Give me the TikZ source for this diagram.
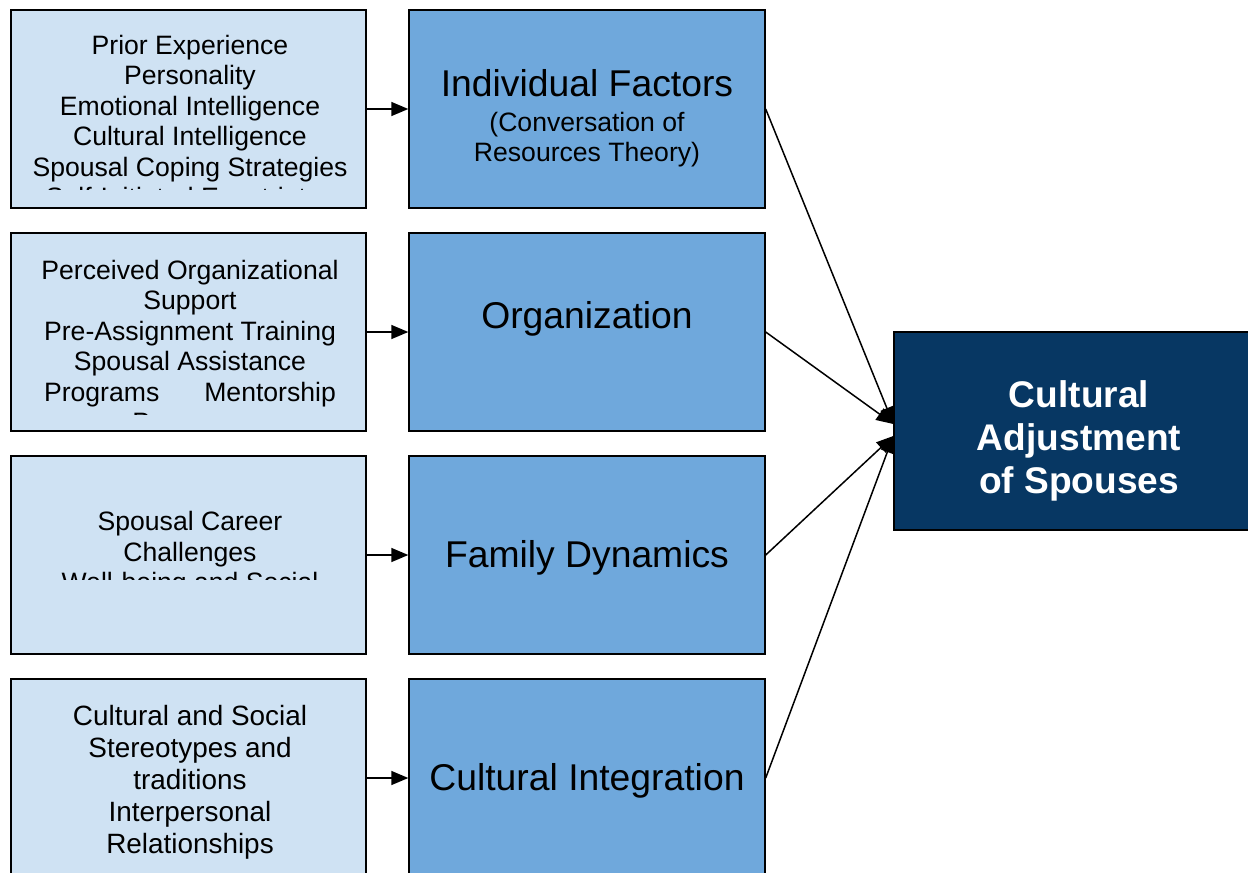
\documentclass[tikz,border=0pt]{standalone}
\usepackage{fontspec}
\setmainfont{Liberation Sans}
\usepackage{xcolor}
\usetikzlibrary{arrows.meta}
\definecolor{paleblue}{HTML}{CFE2F3}
\definecolor{midblue}{HTML}{6FA8DC}
\definecolor{navyblue}{HTML}{073763}

\begin{document}
\begin{tikzpicture}[x=1pt,y=-1pt,
  itembox/.style={draw=black,line width=1.4pt,fill=paleblue,inner sep=0pt,
    minimum width=355pt,minimum height=198pt},
  factorbox/.style={itembox,fill=midblue,minimum width=356pt},
  itemtxt/.style={align=center,inner sep=0pt,font=\fontsize{26.6}{30.5}\selectfont},
  factortxt/.style={align=center,inner sep=0pt,font=\fontsize{37.3}{43}\selectfont},
  link/.style={line width=1.5pt,-{Triangle[length=17pt,width=14pt]}}]
\useasboundingbox (0,0) rectangle (1248,873);
% boxes, one row per factor
\foreach \i/\yc in {1/109,2/332,3/555,4/778}{
  \node[itembox] (item\i) at (188.5,\yc) {};
  \node[factorbox] (fac\i) at (587,\yc) {};
  \draw[link] (item\i.east) -- (fac\i.west);
}
% outcome
\node[itembox,fill=navyblue,minimum width=355pt] (adj) at (1071.5,431) {};
\node[align=center,inner sep=0pt,text=white,
  font=\fontsize{37.1}{43}\selectfont\bfseries] at (1079,441)
  {Cultural\\Adjustment\\of Spouses};
% left column texts (cut off by their text frames)
\begin{scope}
  \clip (11,10) rectangle (366,189);
  \node[itemtxt] at (190,123.5) {Prior Experience\\Personality\\Emotional Intelligence\\
    Cultural Intelligence\\Spousal Coping Strategies\\Self-Initiated Expatriates};
\end{scope}
\begin{scope}
  \clip (11,233) rectangle (366,414);
  \node[itemtxt] at (190,348.4) {Perceived Organizational\\Support\\Pre-Assignment Training\\
    Spousal Assistance\\Programs\hspace{45pt}Mentorship\\Programs};
\end{scope}
\begin{scope}
  \clip (11,456) rectangle (366,579);
  \node[itemtxt] at (190,554.6) {Spousal Career\\Challenges\\Well-being and Social};
\end{scope}
\node[itemtxt,font=\fontsize{27.9}{32}\selectfont] at (190,782)
  {Cultural and Social\\Stereotypes and\\traditions\\Interpersonal\\Relationships};
% factor texts
\node[factortxt] at (587,83) {Individual Factors};
\node[itemtxt] at (587,139.5) {(Conversation of\\Resources Theory)};
\node[factortxt] at (587,318.5) {Organization};
\node[factortxt] at (587,557.5) {Family Dynamics};
\node[factortxt] at (587,780.5) {Cultural Integration};
% into the outcome
\coordinate (tipA) at ([yshift=7pt]adj.west);
\coordinate (tipB) at ([yshift=-5pt]adj.west);
\draw[link] (fac1.east) -- (tipA);
\draw[link] (fac2.east) -- (tipA);
\draw[link] (fac3.east) -- (tipB);
\draw[link] (fac4.east) -- (tipB);
\end{tikzpicture}
\end{document}
